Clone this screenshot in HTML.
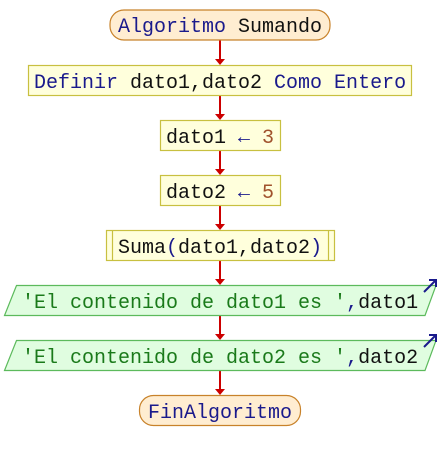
<!DOCTYPE html>
<html><head><meta charset="utf-8"><style>
html,body{margin:0;padding:0;background:#fff;width:440px;height:460px;overflow:hidden}
text{font-family:"Liberation Mono","DejaVu Sans Mono",monospace;font-size:20px}
</style></head><body>
<svg width="440" height="460" xmlns="http://www.w3.org/2000/svg">
<g stroke="#cc0000" stroke-width="2" fill="#cc0000">
<line x1="220" y1="40" x2="220" y2="60"/><path d="M215,59 L225,59 L220,65Z" stroke="none"/>
<line x1="220" y1="95" x2="220" y2="115"/><path d="M215,114 L225,114 L220,120Z" stroke="none"/>
<line x1="220" y1="150" x2="220" y2="170"/><path d="M215,169 L225,169 L220,175Z" stroke="none"/>
<line x1="220" y1="205" x2="220" y2="225"/><path d="M215,224 L225,224 L220,230Z" stroke="none"/>
<line x1="220" y1="260" x2="220" y2="280"/><path d="M215,279 L225,279 L220,285Z" stroke="none"/>
<line x1="220" y1="315" x2="220" y2="335"/><path d="M215,334 L225,334 L220,340Z" stroke="none"/>
<line x1="220" y1="370" x2="220" y2="390"/><path d="M215,389 L225,389 L220,395Z" stroke="none"/>
</g>
<rect x="110" y="10" width="220" height="30" rx="14" fill="#ffedd1" stroke="#c8822a" stroke-width="1.2"/>
<text x="118" y="32" fill="#1a1a8c">Algoritmo <tspan fill="#111">Sumando</tspan></text>
<rect x="28.5" y="65.5" width="383" height="30" fill="#ffffdc" stroke="#c8c040" stroke-width="1.2"/>
<text x="34" y="88" fill="#1a1a8c">Definir <tspan fill="#111">dato1,dato2</tspan> Como Entero</text>
<rect x="160.5" y="120.5" width="120" height="30" fill="#ffffdc" stroke="#c8c040" stroke-width="1.2"/>
<text x="166" y="143" fill="#111">dato1 <tspan fill="#1a1a8c">←</tspan> <tspan fill="#a0522d">3</tspan></text>
<rect x="160.5" y="175.5" width="120" height="30" fill="#ffffdc" stroke="#c8c040" stroke-width="1.2"/>
<text x="166" y="198" fill="#111">dato2 <tspan fill="#1a1a8c">←</tspan> <tspan fill="#a0522d">5</tspan></text>
<rect x="106.5" y="230.5" width="228" height="30" fill="#ffffdc" stroke="#c8c040" stroke-width="1.2"/>
<line x1="112.5" y1="230.5" x2="112.5" y2="260.5" stroke="#c8c040" stroke-width="1.2"/>
<line x1="328.5" y1="230.5" x2="328.5" y2="260.5" stroke="#c8c040" stroke-width="1.2"/>
<text x="118" y="253" fill="#111">Suma<tspan fill="#1a1a8c">(</tspan>dato1,dato2<tspan fill="#1a1a8c">)</tspan></text>
<path d="M16.5,285.5 L436,285.5 L425,315.5 L4.5,315.5Z" fill="#e0fde0" stroke="#5cba5c" stroke-width="1.2"/>
<text x="22" y="308" fill="#1a7a1a">'El contenido de dato1 es '<tspan fill="#1a1a8c">,</tspan><tspan fill="#111">dato1</tspan></text>
<path d="M16.5,340.5 L436,340.5 L425,370.5 L4.5,370.5Z" fill="#e0fde0" stroke="#5cba5c" stroke-width="1.2"/>
<text x="22" y="363" fill="#1a7a1a">'El contenido de dato2 es '<tspan fill="#1a1a8c">,</tspan><tspan fill="#111">dato2</tspan></text>
<g stroke="#1a1a8c" stroke-width="2" fill="none">
<path d="M424,292 L436,280 M429,280 L436,280 L436,287"/>
<path d="M424,347 L436,335 M429,335 L436,335 L436,342"/>
</g>
<rect x="139.5" y="395.5" width="161" height="30" rx="14" fill="#ffedd1" stroke="#c8822a" stroke-width="1.2"/>
<text x="148" y="418" fill="#1a1a8c">FinAlgoritmo</text>
</svg>
</body></html>
